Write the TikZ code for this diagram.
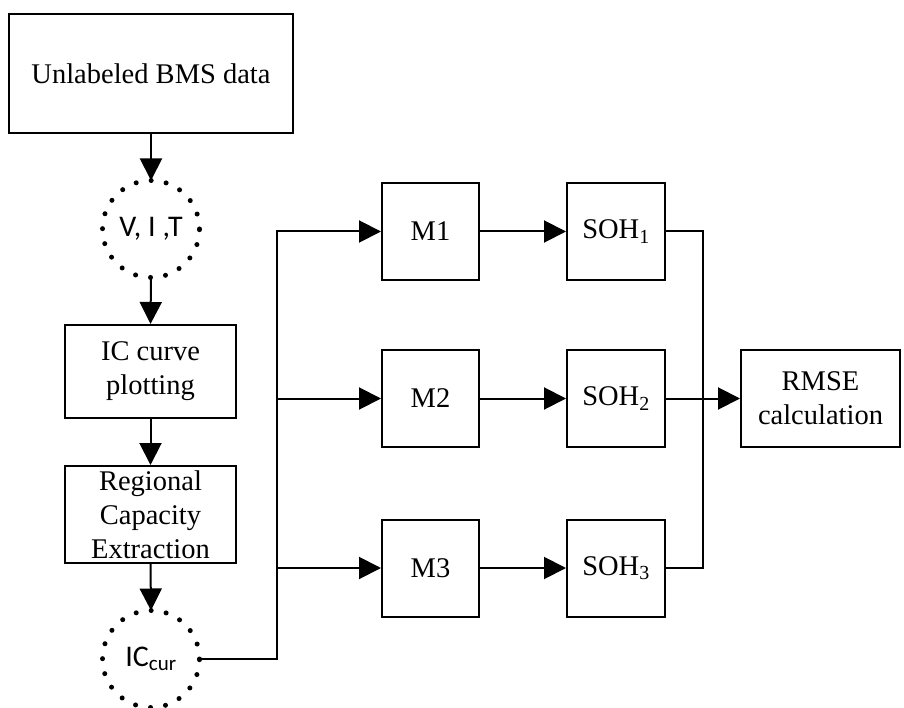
\documentclass[tikz,border=0pt]{standalone}
\usepackage{fontspec}
\setmainfont{Liberation Serif}
\newfontfamily\carlitofont{Carlito}
\usetikzlibrary{arrows.meta}
\begin{document}
\begin{tikzpicture}[x=1pt,y=-1pt,
  line width=2pt,
  box/.style={draw, rectangle, inner sep=0pt, align=center,
    font=\fontsize{28.5}{34}\selectfont},
  dotcirc/.style={circle, draw, minimum size=97pt, inner sep=0pt, outer sep=0pt,
    line width=5pt, line cap=round, dash pattern=on 0pt off 15.2pt,
    font=\carlitofont\fontsize{30}{32}\selectfont},
  arr/.style={-{Triangle[length=22pt,width=22pt]}}]
\useasboundingbox (0,0) rectangle (904,708);
% left column
\node[box, minimum width=284pt, minimum height=119pt] (bms) at (151,73.5) {Unlabeled BMS data};
\node[dotcirc] (vit) at (151,229) {V, I ,T};
\node[box, minimum width=171pt, minimum height=93pt] (ic) at (150.5,371.5) {IC curve\\plotting};
\node[box, minimum width=171pt, minimum height=97pt, font=\fontsize{28.5}{34}\selectfont] (reg) at (150.5,514.5) {Regional\\Capacity\\Extraction};
\node[dotcirc] (iccur) at (151,659) {IC\textsubscript{cur}};
% models
\node[box, minimum width=97pt, minimum height=97pt] (m1) at (430.5,231.5) {M1};
\node[box, minimum width=97pt, minimum height=97pt] (m2) at (430.5,398.5) {M2};
\node[box, minimum width=97pt, minimum height=97pt] (m3) at (430.5,568) {M3};
% SOH
\node[box, minimum width=98pt, minimum height=97pt] (soh1) at (616,231.5) {SOH\textsubscript{1}};
\node[box, minimum width=98pt, minimum height=97pt] (soh2) at (616,398.5) {SOH\textsubscript{2}};
\node[box, minimum width=98pt, minimum height=97pt] (soh3) at (616,568) {SOH\textsubscript{3}};
% RMSE
\node[box, minimum width=159pt, minimum height=97pt] (rmse) at (820.5,398.5) {RMSE\\calculation};
% helper coordinates
\coordinate (bus) at (277,0);
\coordinate (col) at (703,0);
% connectors
\draw[arr] (bms.south) -- (vit.north);
\draw[arr] (vit.south) -- (ic.north);
\draw[arr] (ic.south) -- (reg.north);
\draw[arr] (reg.south) -- (iccur.north);
\draw[arr] (iccur.east) -| (bus |- m1.west) -- (m1.west);
\draw[arr] (bus |- m2.west) -- (m2.west);
\draw[arr] (bus |- m3.west) -- (m3.west);
\draw[arr] (m1.east) -- (soh1.west);
\draw[arr] (m2.east) -- (soh2.west);
\draw[arr] (m3.east) -- (soh3.west);
\draw (soh1.east) -| (col |- soh3.east) -- (soh3.east);
\draw[arr] (soh2.east) -- (rmse.west);
\end{tikzpicture}
\end{document}
